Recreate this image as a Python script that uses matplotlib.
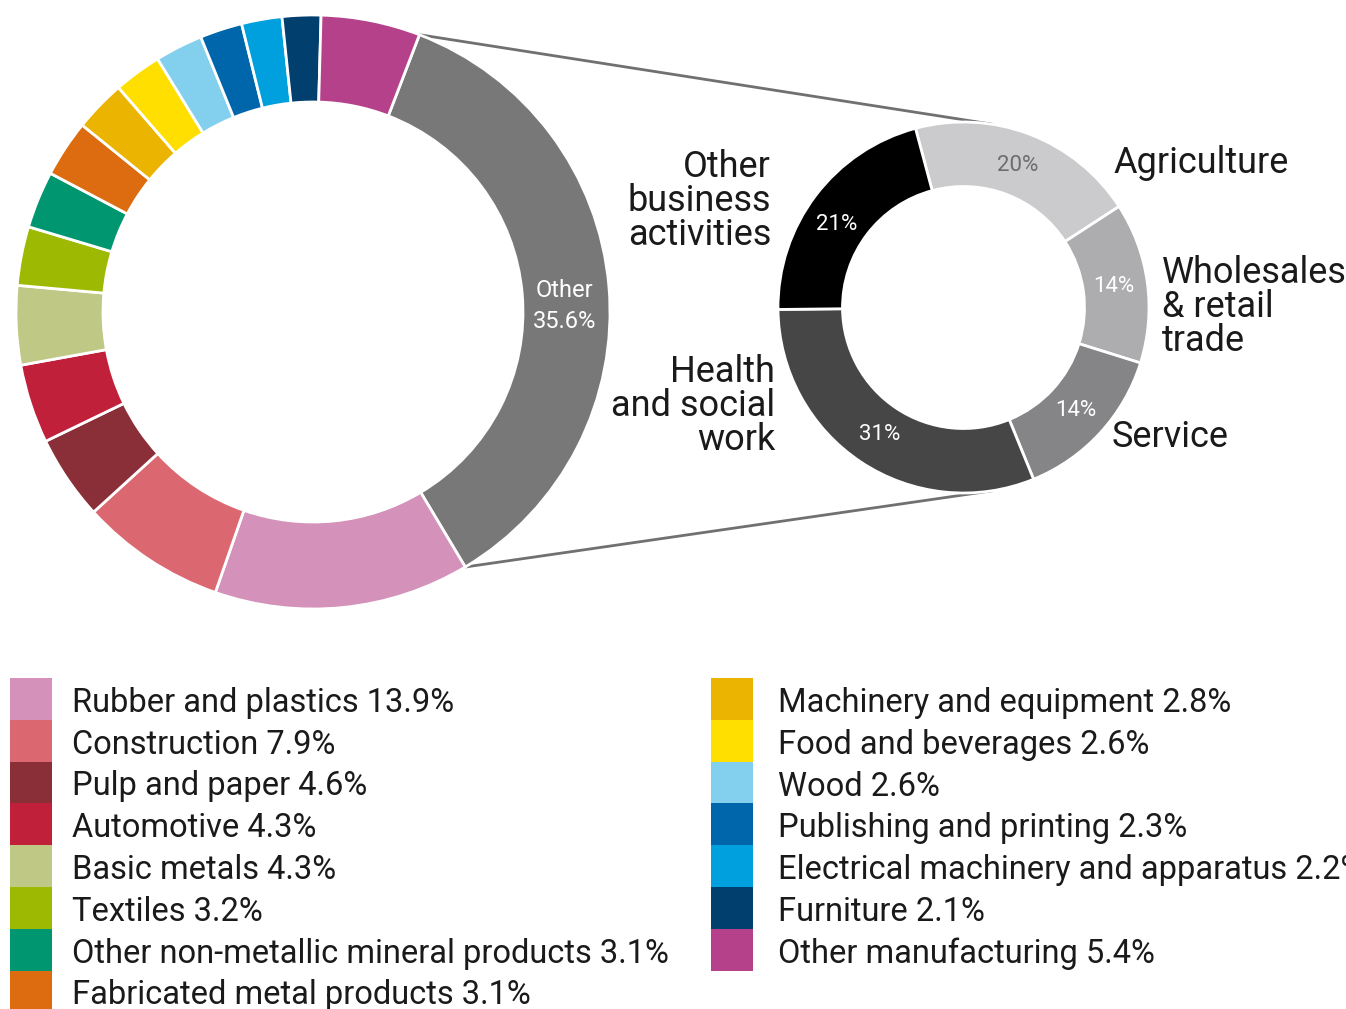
import numpy as np
import matplotlib.pyplot as plt
from matplotlib.patches import Rectangle

W, H = 1346, 1009
plt.rcParams["font.family"] = ["Roboto", "DejaVu Sans"]

# manufacturing split (%), clockwise from the "Other" slice
industries = ["Other", "Rubber and plastics", "Construction", "Pulp and paper",
              "Automotive", "Basic metals", "Textiles",
              "Other non-metallic mineral products", "Fabricated metal products",
              "Machinery and equipment", "Food and beverages", "Wood",
              "Publishing and printing", "Electrical machinery and apparatus",
              "Furniture", "Other manufacturing"]
shares = [35.6, 13.9, 7.9, 4.6, 4.3, 4.3, 3.2, 3.1, 3.1,
          2.8, 2.6, 2.6, 2.3, 2.2, 2.1, 5.4]
colors = ["#787878", "#d491ba", "#db6870", "#8a2e38", "#c1203b", "#bfc885",
          "#9db901", "#009670", "#dc6c0f", "#ebb400", "#ffdf00", "#83d0ee",
          "#0066ab", "#00a0df", "#003f6e", "#b5418a"]

# breakdown of "Other" (%)
sectors = ["Agriculture", "Wholesales\n& retail\ntrade", "Service",
           "Health\nand social\nwork", "Other\nbusiness\nactivities"]
sector_shares = [20, 14, 14, 31, 21]
sector_colors = ["#cbcbcd", "#adadaf", "#858587", "#464646", "#000000"]
pct_colors = ["#6d6d6d", "white", "white", "white", "white"]

fig = plt.figure(figsize=(W / 100, H / 100), dpi=100)
ax = fig.add_axes([0, 0, 1, 1])

# big donut
c1 = (313, H - 312)
r1, w1 = 297, 87
big, _ = ax.pie(shares, colors=colors, center=c1, radius=r1, startangle=69,
                counterclock=False,
                wedgeprops=dict(width=w1, edgecolor="white", linewidth=2))

other = big[0]
mid = np.deg2rad((other.theta1 + other.theta2) / 2)
ax.text(c1[0] + 252 * np.cos(mid), c1[1] + 252 * np.sin(mid) - 16,
        "Other\n35.6%", color="white", fontsize=17, ha="center", va="center",
        linespacing=1.45)

# small donut
c2 = (963.5, H - 307.5)
r2, w2 = 185.5, 64.5
small, _ = ax.pie(sector_shares, colors=sector_colors, center=c2, radius=r2,
                  startangle=105, counterclock=False,
                  wedgeprops=dict(width=w2, edgecolor="white", linewidth=2))

for wdg, v, pc in zip(small, sector_shares, pct_colors):
    a = np.deg2rad((wdg.theta1 + wdg.theta2) / 2 + (4 if v == 21 else 0))
    ax.text(c2[0] + 152 * np.cos(a), c2[1] + 152 * np.sin(a), f"{v}%",
            color=pc, fontsize=16, ha="center", va="center")

# connector lines from the "Other" slice edges to the small donut
for t_big, t_small in [(other.theta2, 81), (other.theta1, -81)]:
    a, b = np.deg2rad(t_big), np.deg2rad(t_small)
    ax.plot([c1[0] + r1 * np.cos(a), c2[0] + r2 * np.cos(b)],
            [c1[1] + r1 * np.sin(a), c2[1] + r2 * np.sin(b)],
            color="#707070", lw=2, zorder=0)

# sector names
lab = dict(fontsize=26, color="#1a1a1a", va="center", linespacing=0.92)
ax.text(1113, H - 163, sectors[0], ha="left", **lab)
ax.text(1162, H - 307, sectors[1], ha="left", **lab)
ax.text(1112, H - 437, sectors[2], ha="left", **lab)
ax.text(775, H - 406, sectors[3], ha="right", multialignment="right", **lab)
ax.text(771, H - 201, sectors[4], ha="right", multialignment="right", **lab)

# legend, two columns of colour blocks
row_h = 41.8
columns = [(10, 72, range(1, 9)), (711, 778, range(9, 16))]
for px, tx, idx in columns:
    for k, i in enumerate(idx):
        top = 678 + k * row_h
        ax.add_patch(Rectangle((px, H - top - row_h), 42, row_h,
                               facecolor=colors[i], edgecolor="none"))
        ax.text(tx, H - top - row_h / 2 - 4, f"{industries[i]} {shares[i]}%",
                fontsize=23.5, color="#1a1a1a", ha="left", va="center")

ax.set_xlim(0, W)
ax.set_ylim(0, H)
ax.set_aspect("equal")
ax.axis("off")

fig.savefig("out.png", dpi=100, facecolor="white")
